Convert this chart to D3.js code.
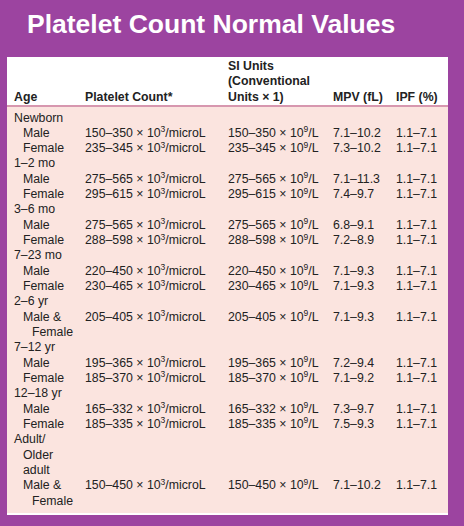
<!DOCTYPE html><html><head><meta charset="utf-8"><script src="https://cdn.jsdelivr.net/npm/d3@7"></script>
<style>body{margin:0;background:#9c44a0}</style></head><body><script>
const title="Platelet Count Normal Values";
const headers=[["Age"],["Platelet Count*"],["SI Units","(Conventional","Units × 1)"],["MPV (fL)"],["IPF (%)"]];
// each row: [label lines, indent], count low, high, mpv, ipf
const ageLabels=[["Newborn",0],["Male",1],["Female",1],["1–2 mo",0],["Male",1],["Female",1],["3–6 mo",0],["Male",1],["Female",1],["7–23 mo",0],["Male",1],["Female",1],["2–6 yr",0],["Male &",1],["Female",2],["7–12 yr",0],["Male",1],["Female",1],["12–18 yr",0],["Male",1],["Female",1],["Adult/",0],["Older",1],["adult",1],["Male &",1],["Female",2]];
const counts=[null,"150–350","235–345",null,"275–565","295–615",null,"275–565","288–598",null,"220–450","230–465",null,"205–405",null,null,"195–365","185–370",null,"165–332","185–335",null,null,null,"150–450",null];
const mpv=[null,"7.1–10.2","7.3–10.2",null,"7.1–11.3","7.4–9.7",null,"6.8–9.1","7.2–8.9",null,"7.1–9.3","7.1–9.3",null,"7.1–9.3",null,null,"7.2–9.4","7.1–9.2",null,"7.3–9.7","7.5–9.3",null,null,null,"7.1–10.2",null];
const ipf=counts.map(c=>c?"1.1–7.1":null);
const W=464,H=526;
const svg=d3.select("body").append("svg").attr("width",W).attr("height",H).style("font-family","Liberation Sans, Arial, sans-serif");
svg.append("rect").attr("width",W).attr("height",H).attr("fill","#9c44a0");
svg.append("text").attr("x",27).attr("y",33).attr("fill","#fff").attr("font-size",26.5).attr("font-weight","bold").text(title);
svg.append("rect").attr("x",7).attr("y",57).attr("width",441).attr("height",458).attr("fill","#fff");
svg.append("rect").attr("x",7).attr("y",107).attr("width",441).attr("height",406).attr("fill","#fbe4df");
svg.append("line").attr("x1",7).attr("x2",448).attr("y1",106).attr("y2",106).attr("stroke","#b03060").attr("stroke-width",1.2);
const colX=[14,85,228,333,396];
const y=d3.scaleLinear().domain([0,25]).range([121.5,504.5]);
headers.forEach((h,i)=>h.forEach((t,j)=>svg.append("text").attr("x",colX[i]).attr("y",101-(h.length-1-j)*15.7).attr("font-size",12.3).attr("font-weight","bold").attr("fill","#222").text(t)));
const g=svg.append("g").attr("font-size",12.3).attr("fill","#222");
ageLabels.forEach((a,i)=>g.append("text").attr("x",colX[0]+a[1]*9).attr("y",y(i)).text(a[0]));
function unit(x,yy,v,exp,u){const t=g.append("text").attr("x",x).attr("y",yy);t.append("tspan").text(v+" × 10");t.append("tspan").attr("font-size",8.5).attr("dy",-4.5).text(exp);t.append("tspan").attr("dy",4.5).text(u);}
counts.forEach((c,i)=>{if(!c)return;unit(colX[1],y(i),c,"3","/microL");unit(colX[2],y(i),c,"9","/L");
 g.append("text").attr("x",colX[3]).attr("y",y(i)).text(mpv[i]);g.append("text").attr("x",colX[4]).attr("y",y(i)).text(ipf[i]);});
</script></body></html>
